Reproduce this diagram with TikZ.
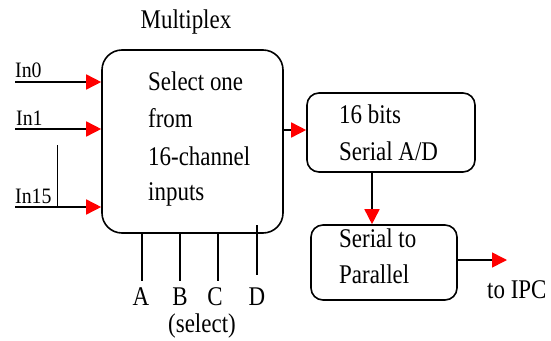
\documentclass[tikz,border=0pt]{standalone}
\usepackage{fontspec}
\setmainfont[FakeStretch=0.85]{Liberation Serif}
\newfontfamily\plainserif[FakeStretch=0.9]{Liberation Serif}
\usetikzlibrary{arrows.meta}
\begin{document}
\begin{tikzpicture}[x=1pt,y=-1pt,
  box/.style={draw,line width=1.6pt,rounded corners=#1,inner sep=0pt},
  txt/.style={anchor=base west,inner sep=0pt,font=\fontsize{27}{27}\selectfont},
  ctxt/.style={anchor=base,inner sep=0pt,font=\fontsize{27}{27}\selectfont},
  intxt/.style={anchor=base west,inner sep=0pt,font=\plainserif\fontsize{22}{22}\selectfont},
  arr/.style={line width=1.6pt,-{Triangle[length=15pt,width=15pt,color=red]}},
  wire/.style={line width=1.6pt},
  thin/.style={line width=1pt}]
\useasboundingbox (0,0) rectangle (551,340);
% boxes
\node[box=20pt,minimum width=181pt,minimum height=183pt] (mux) at (192.5,141.5) {};
\node[box=12pt,minimum width=168pt,minimum height=79pt] (ad) at (391,132.5) {};
\node[box=12pt,minimum width=146pt,minimum height=75pt] (sp) at (384,262.5) {};
% texts
\node[ctxt] (title) at (186,28) {Multiplex};
\node[txt] (m1) at (148,90) {Select one};
\node[txt] (m2) at (148,127) {from};
\node[txt] (m3) at (148,165) {16-channel};
\node[txt] (m4) at (148,200) {inputs};
\node[txt] (a1) at (339,123) {16 bits};
\node[txt] (a2) at (339,160) {Serial A/D};
\node[txt] (s1) at (339,247) {Serial to};
\node[txt] (s2) at (339,283) {Parallel};
\node[txt] (ipc) at (487,298) {to IPC};
\node[intxt] (in0) at (15,77) {In0};
\node[intxt] (in1) at (16,125) {In1};
\node[intxt] (in15) at (15,203) {In15};
\node[ctxt] (la) at (141,305) {A};
\node[ctxt] (lb) at (180,305) {B};
\node[ctxt] (lc) at (215,305) {C};
\node[ctxt] (ld) at (257,305) {D};
\node[ctxt] (sel) at (202,332) {(select)};
% inputs
\coordinate (i0) at (15,82);
\coordinate (i1) at (15,129);
\coordinate (i15) at (15,207);
\draw[arr] (i0) -- (i0 -| mux.west);
\draw[arr] (i1) -- (i1 -| mux.west);
\draw[arr] (i15) -- (i15 -| mux.west);
\coordinate (v1) at (57,145);
\coordinate (v2) at (57,208);
\draw[thin] (v1) -- (v2);
% select lines
\coordinate (sa) at (142,281);
\coordinate (sb) at (180,281);
\coordinate (sc) at (218,281);
\coordinate (sd1) at (257,225);
\coordinate (sd2) at (257,275);
\draw[wire] (sa |- mux.south) -- (sa);
\draw[wire] (sb |- mux.south) -- (sb);
\draw[wire] (sc |- mux.south) -- (sc);
\draw[wire] (sd1) -- (sd2);
% flow
\coordinate (o1) at (283,130);
\draw[arr] (o1) -- (o1 -| ad.west);
\coordinate (d1) at (372,172);
\draw[arr] (d1 |- ad.south) -- (d1 |- sp.north);
\coordinate (o2) at (507,260);
\draw[arr] (o2 -| sp.east) -- (o2);
\end{tikzpicture}
\end{document}
